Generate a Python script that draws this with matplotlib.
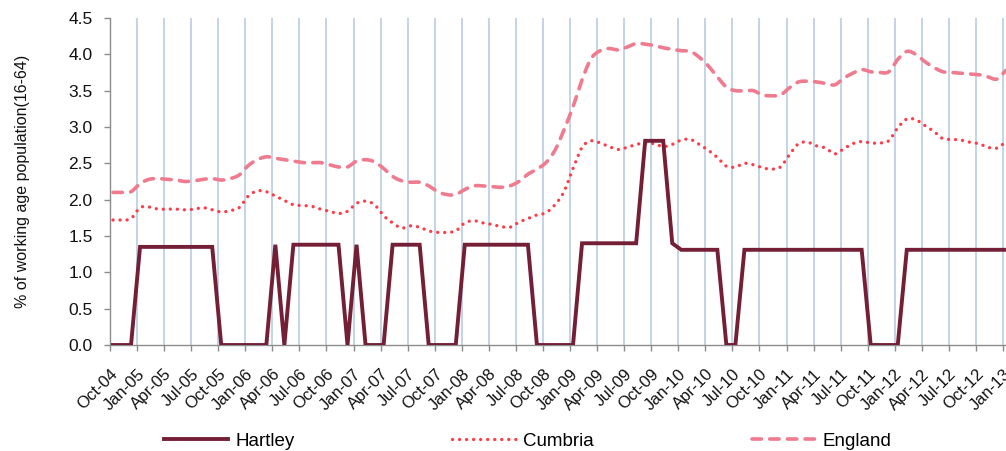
import numpy as np
import matplotlib
matplotlib.use("Agg")
import matplotlib.pyplot as plt
from matplotlib.lines import Line2D
from matplotlib.transforms import ScaledTranslation

plt.rcParams['font.family'] = ['Liberation Sans', 'DejaVu Sans']

tick_labels = ["Oct-04", "Jan-05", "Apr-05", "Jul-05", "Oct-05", "Jan-06", "Apr-06", "Jul-06",
               "Oct-06", "Jan-07", "Apr-07", "Jul-07", "Oct-07", "Jan-08", "Apr-08", "Jul-08",
               "Oct-08", "Jan-09", "Apr-09", "Jul-09", "Oct-09", "Jan-10", "Apr-10", "Jul-10",
               "Oct-10", "Jan-11", "Apr-11", "Jul-11", "Oct-11", "Jan-12", "Apr-12", "Jul-12",
               "Oct-12", "Jan-13"]

hartley = ([0.0] * 3 + [1.35] * 9 + [0.0] * 6 + [1.38] + [0.0] + [1.38] * 6 + [0.0] + [1.38]
           + [0.0] * 3 + [1.38] * 4 + [0.0] * 4 + [1.38] * 8 + [0.0] * 5 + [1.40] * 7
           + [2.81] * 3 + [1.40] + [1.31] * 5 + [0.0] * 2 + [1.31] * 14 + [0.0] * 4 + [1.31] * 12)

cumbria = [1.72, 1.72, 1.74, 1.89, 1.90, 1.87, 1.87, 1.87, 1.86, 1.87,
           1.89, 1.86, 1.83, 1.85, 1.89, 2.05, 2.12, 2.11, 2.05, 1.99,
           1.93, 1.92, 1.91, 1.87, 1.84, 1.81, 1.84, 1.95, 1.98, 1.93,
           1.78, 1.68, 1.61, 1.64, 1.62, 1.57, 1.55, 1.55, 1.57, 1.68,
           1.71, 1.68, 1.66, 1.63, 1.62, 1.69, 1.74, 1.79, 1.82, 1.93,
           2.11, 2.43, 2.72, 2.81, 2.78, 2.73, 2.69, 2.72, 2.76, 2.78,
           2.77, 2.73, 2.76, 2.82, 2.83, 2.76, 2.68, 2.58, 2.46, 2.45,
           2.50, 2.48, 2.44, 2.42, 2.45, 2.62, 2.77, 2.79, 2.74, 2.71,
           2.63, 2.70, 2.77, 2.80, 2.78, 2.78, 2.81, 2.99, 3.11, 3.10,
           3.02, 2.94, 2.84, 2.83, 2.82, 2.79, 2.77, 2.72, 2.71, 2.80]

england = [2.10, 2.10, 2.11, 2.22, 2.28, 2.29, 2.28, 2.27, 2.25, 2.26,
           2.28, 2.29, 2.27, 2.29, 2.34, 2.47, 2.55, 2.59, 2.57, 2.55,
           2.53, 2.51, 2.51, 2.51, 2.48, 2.45, 2.45, 2.53, 2.55, 2.52,
           2.43, 2.32, 2.26, 2.24, 2.24, 2.19, 2.11, 2.07, 2.07, 2.14,
           2.19, 2.19, 2.18, 2.17, 2.19, 2.25, 2.35, 2.42, 2.51, 2.68,
           2.96, 3.28, 3.65, 3.94, 4.05, 4.08, 4.06, 4.10, 4.15, 4.14,
           4.12, 4.09, 4.07, 4.05, 4.04, 3.96, 3.84, 3.69, 3.55, 3.50,
           3.50, 3.50, 3.44, 3.43, 3.44, 3.54, 3.62, 3.63, 3.62, 3.60,
           3.58, 3.67, 3.74, 3.79, 3.76, 3.75, 3.76, 3.93, 4.04, 4.00,
           3.90, 3.82, 3.76, 3.75, 3.74, 3.73, 3.72, 3.69, 3.66, 3.78]


def smooth(x, y, n=12):
    """Catmull-Rom spline through the points (like Excel's smoothed line)."""
    x = np.asarray(x, float)
    y = np.asarray(y, float)
    xp = np.concatenate([[2 * x[0] - x[1]], x, [2 * x[-1] - x[-2]]])
    yp = np.concatenate([[2 * y[0] - y[1]], y, [2 * y[-1] - y[-2]]])
    xs, ys = [], []
    t = np.linspace(0, 1, n, endpoint=False)
    for i in range(1, len(xp) - 2):
        for arr, out in ((xp, xs), (yp, ys)):
            p0, p1, p2, p3 = arr[i - 1], arr[i], arr[i + 1], arr[i + 2]
            out.extend(0.5 * ((2 * p1) + (-p0 + p2) * t
                              + (2 * p0 - 5 * p1 + 4 * p2 - p3) * t ** 2
                              + (-p0 + 3 * p1 - 3 * p2 + p3) * t ** 3))
    xs.append(x[-1])
    ys.append(y[-1])
    return np.array(xs), np.array(ys)


W, H = 1006, 451
fig = plt.figure(figsize=(W / 100, H / 100), dpi=100)
ax = fig.add_axes([110 / W, (H - 345) / H, (W - 110) / W, (345 - 18) / H])

x_months = np.arange(len(hartley)) + 0.33

c_h = '#751f36'
c_c = '#ff3b47'
c_e = '#f07a8e'
ls_e = (0, (2.6, 2.3))
ls_c = (0, (0.01, 2.1))

ex, ey = smooth(x_months, england)
cx, cy = smooth(x_months, cumbria)
ax.plot(ex, ey, color=c_e, lw=2.6, linestyle=ls_e, dash_capstyle='round', zorder=3)
ax.plot(cx, cy, color=c_c, lw=2.4, linestyle=ls_c, dash_capstyle='round', zorder=3)
ax.plot(x_months, hartley, color=c_h, lw=2.8, zorder=4, solid_joinstyle='miter')

ax.set_xlim(0, 99.33)
ax.set_ylim(0, 4.5)
ticks = np.arange(0, 3 * len(tick_labels), 3)
ax.set_xticks(ticks)
ax.set_xticklabels(tick_labels, rotation=45, ha='right', rotation_mode='anchor',
                   fontsize=12, color='#111111')
shift = ScaledTranslation(3 / 100, 0, fig.dpi_scale_trans)
for lab in ax.get_xticklabels():
    lab.set_transform(lab.get_transform() + shift)
ax.set_yticks(np.arange(0, 4.51, 0.5))
ax.set_yticklabels([f"{v:.1f}" for v in np.arange(0, 4.51, 0.5)], fontsize=12.5, color='#111111')

ax.grid(axis='x', color='#b9cde5', lw=1.2)
ax.set_axisbelow(True)
for s in ('top', 'right'):
    ax.spines[s].set_visible(False)
for s in ('left', 'bottom'):
    ax.spines[s].set_color('#8c8c8c')
    ax.spines[s].set_linewidth(1.0)
ax.tick_params(axis='both', direction='out', color='#8c8c8c', length=4.5, width=1.0)
ax.tick_params(axis='x', pad=11)
ax.tick_params(axis='y', pad=8)

fig.text(23 / W, 1 - 181 / H, "% of working age population(16-64)", rotation=90,
         ha='center', va='center', fontsize=11.5, color='#111111')

handles = [Line2D([], [], color=c_h, lw=2.8),
           Line2D([], [], color=c_c, lw=2.4, linestyle=ls_c, dash_capstyle='round'),
           Line2D([], [], color=c_e, lw=2.6, linestyle=ls_e, dash_capstyle='round')]
fig.legend(handles, ["Hartley", "Cumbria", "England"], loc='center',
           bbox_to_anchor=(528 / W, 1 - 441 / H), ncol=3, frameon=False, fontsize=13.5,
           handlelength=3.4, handletextpad=0.4, columnspacing=8.4, borderpad=0)

fig.savefig("out.png", dpi=100)
